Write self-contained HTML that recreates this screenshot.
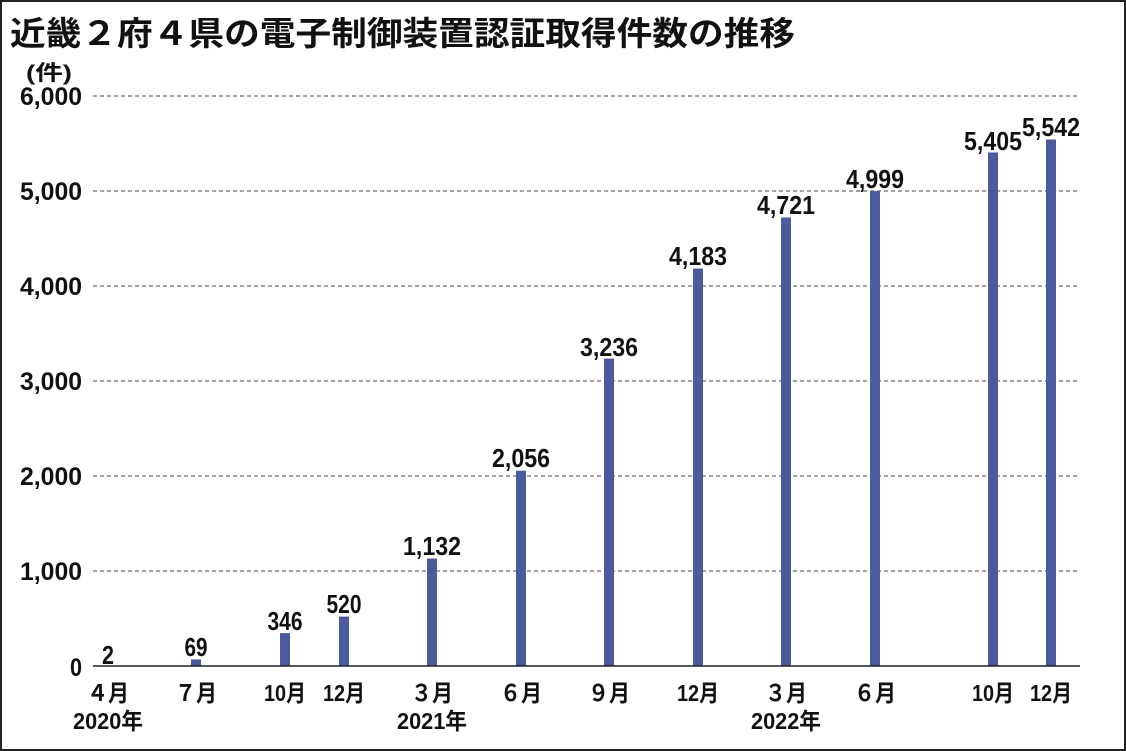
<!DOCTYPE html>
<html><head><meta charset="utf-8"><style>
html,body{margin:0;padding:0;background:#fff}
svg{display:block}
.t{font-family:"Liberation Sans","Noto Sans CJK JP",sans-serif;font-weight:bold}
.n{font-family:"Liberation Sans","Noto Sans CJK JP",sans-serif;font-weight:bold;fill:#111}
</style></head><body>
<svg width="1126" height="751" viewBox="0 0 1126 751" xmlns="http://www.w3.org/2000/svg">
<rect x="1" y="1" width="1124" height="749" fill="#fff" stroke="#222" stroke-width="2"/>
<text class="t" x="10" y="45" font-size="33" fill="#111" textLength="785" lengthAdjust="spacingAndGlyphs">近畿２府４県の電子制御装置認証取得件数の推移</text>
<text class="n" x="26" y="80" font-size="21" textLength="46" lengthAdjust="spacingAndGlyphs">(件)</text>
<g stroke="#444" stroke-width="1" stroke-dasharray="4,3">
<line x1="93" y1="96" x2="1080" y2="96"/>
<line x1="93" y1="191" x2="1080" y2="191"/>
<line x1="93" y1="286" x2="1080" y2="286"/>
<line x1="93" y1="381" x2="1080" y2="381"/>
<line x1="93" y1="476" x2="1080" y2="476"/>
<line x1="93" y1="571" x2="1080" y2="571"/>
</g>
<g class="n" font-size="25" text-anchor="end">
<text x="82" y="105" textLength="62" lengthAdjust="spacingAndGlyphs">6,000</text>
<text x="82" y="200" textLength="62" lengthAdjust="spacingAndGlyphs">5,000</text>
<text x="82" y="295" textLength="62" lengthAdjust="spacingAndGlyphs">4,000</text>
<text x="82" y="390" textLength="62" lengthAdjust="spacingAndGlyphs">3,000</text>
<text x="82" y="485" textLength="62" lengthAdjust="spacingAndGlyphs">2,000</text>
<text x="82" y="580" textLength="62" lengthAdjust="spacingAndGlyphs">1,000</text>
<text x="82" y="676" textLength="12" lengthAdjust="spacingAndGlyphs">0</text>
</g>
<g fill="#4a5a9a">
<rect x="103" y="665.8" width="10" height="0.2"/>
<rect x="191" y="659.4" width="10" height="6.6"/>
<rect x="280" y="633.1" width="10" height="32.9"/>
<rect x="339" y="616.6" width="10" height="49.4"/>
<rect x="427" y="558.5" width="10" height="107.5"/>
<rect x="516" y="470.7" width="10" height="195.3"/>
<rect x="604" y="358.6" width="10" height="307.4"/>
<rect x="693" y="268.6" width="10" height="397.4"/>
<rect x="781" y="217.5" width="10" height="448.5"/>
<rect x="870" y="191.1" width="10" height="474.9"/>
<rect x="988" y="152.5" width="10" height="513.5"/>
<rect x="1046" y="139.5" width="10" height="526.5"/>
</g>
<line x1="93" y1="666" x2="1080" y2="666" stroke="#222" stroke-width="1.5"/>
<g class="n" font-size="26" text-anchor="middle">
<text x="108" y="664" textLength="12" lengthAdjust="spacingAndGlyphs">2</text>
<text x="196" y="656" textLength="23" lengthAdjust="spacingAndGlyphs">69</text>
<text x="285" y="630" textLength="35" lengthAdjust="spacingAndGlyphs">346</text>
<text x="344" y="613" textLength="35" lengthAdjust="spacingAndGlyphs">520</text>
<text x="432" y="555" textLength="58" lengthAdjust="spacingAndGlyphs">1,132</text>
<text x="521" y="467" textLength="58" lengthAdjust="spacingAndGlyphs">2,056</text>
<text x="609" y="356" textLength="58" lengthAdjust="spacingAndGlyphs">3,236</text>
<text x="698" y="265" textLength="58" lengthAdjust="spacingAndGlyphs">4,183</text>
<text x="786" y="214" textLength="58" lengthAdjust="spacingAndGlyphs">4,721</text>
<text x="875" y="188" textLength="58" lengthAdjust="spacingAndGlyphs">4,999</text>
<text x="993" y="150" textLength="58" lengthAdjust="spacingAndGlyphs">5,405</text>
<text x="1051" y="136" textLength="58" lengthAdjust="spacingAndGlyphs">5,542</text>
</g>
<g class="n" font-size="23" text-anchor="middle">
<text x="108" y="701" textLength="42" lengthAdjust="spacingAndGlyphs">４月</text>
<text x="108" y="729" textLength="70" lengthAdjust="spacingAndGlyphs">2020年</text>
<text x="196" y="701" textLength="42" lengthAdjust="spacingAndGlyphs">７月</text>
<text x="285" y="701" textLength="42" lengthAdjust="spacingAndGlyphs">10月</text>
<text x="344" y="701" textLength="42" lengthAdjust="spacingAndGlyphs">12月</text>
<text x="432" y="701" textLength="42" lengthAdjust="spacingAndGlyphs">３月</text>
<text x="432" y="729" textLength="70" lengthAdjust="spacingAndGlyphs">2021年</text>
<text x="521" y="701" textLength="42" lengthAdjust="spacingAndGlyphs">６月</text>
<text x="609" y="701" textLength="42" lengthAdjust="spacingAndGlyphs">９月</text>
<text x="698" y="701" textLength="42" lengthAdjust="spacingAndGlyphs">12月</text>
<text x="786" y="701" textLength="42" lengthAdjust="spacingAndGlyphs">３月</text>
<text x="786" y="729" textLength="70" lengthAdjust="spacingAndGlyphs">2022年</text>
<text x="875" y="701" textLength="42" lengthAdjust="spacingAndGlyphs">６月</text>
<text x="993" y="701" textLength="42" lengthAdjust="spacingAndGlyphs">10月</text>
<text x="1051" y="701" textLength="42" lengthAdjust="spacingAndGlyphs">12月</text>
</g>
</svg>
</body></html>
